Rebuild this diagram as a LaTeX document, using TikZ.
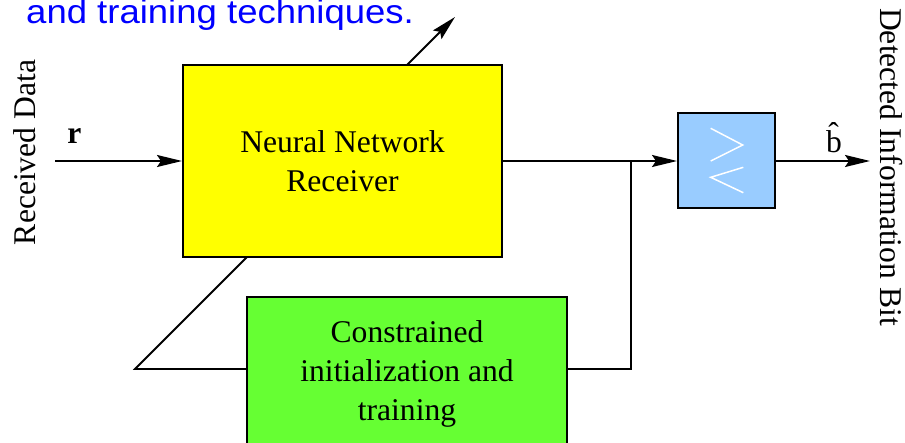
\documentclass[tikz,border=0pt]{standalone}
\usepackage{fontspec}
\setmainfont{Liberation Serif}
\newfontfamily\blsans{Liberation Sans}
\usetikzlibrary{arrows.meta,calc}
\definecolor{nnyellow}{RGB}{255,255,0}
\definecolor{cgreen}{RGB}{102,255,51}
\definecolor{cmpblue}{RGB}{153,204,255}
\definecolor{noteblue}{RGB}{0,0,255}
\begin{document}
\begin{tikzpicture}[x=1pt,y=1pt,
  lbl/.style={font=\fontsize{31.6}{39}\selectfont, inner sep=0pt},
  blockbox/.style={draw=black, line width=2pt, rectangle, inner sep=0pt, align=center, font=\fontsize{31.6}{39}\selectfont},
  conn/.style={line width=1.8pt, draw=black},
  arr/.style={conn, -{Stealth[length=25pt,width=12pt,inset=4pt]}}
]
\clip (0,-442) rectangle (905,0);
\fill[white] (0,-442) rectangle (905,0);

% blocks
\node[blockbox, fill=nnyellow, minimum width=319pt, minimum height=192pt] (nn) at (342.5,-161) {Neural Network\\Receiver};
\node[blockbox, fill=cgreen, minimum width=320pt, minimum height=153pt] (tr) at (407,-373.5) {Constrained\\initialization and\\training};
\node[blockbox, fill=cmpblue, minimum width=97pt, minimum height=95pt] (cmp) at (726.5,-160.5) {\phantom{x}};

% comparator symbol
\draw[white, line width=1.5pt] ($(cmp.center)+(-15.8,32.2)$) -- ($(cmp.center)+(16.2,15.5)$) -- ($(cmp.center)+(-15.8,-0.5)$);
\draw[white, line width=1.5pt] ($(cmp.center)+(16.8,-6.8)$) -- ($(cmp.center)+(-15.8,-16.8)$) -- ($(cmp.center)+(16.8,-32.2)$);

% coordinates
\coordinate (in) at (55,-161);
\coordinate (j) at (631,-161);
\coordinate (j2) at (631,-369);
\coordinate (fb) at (135,-369);
\coordinate (fbtop) at (247,-257);
\coordinate (adst) at (407,-65);
\coordinate (adtip) at (455,-17);
\coordinate (out) at (870,-161);

% connectors
\draw[arr] (in) -- (nn.west |- in);
\draw[arr] (nn.east |- j) -- (cmp.west |- j);
\draw[conn] (j) -- (j2) -- (j2 -| tr.east);
\draw[conn, line join=miter] (tr.west |- fb) -- (fb) -- (fbtop);
\draw[arr] (adst) -- (adtip);
\draw[arr] (cmp.east |- out) -- (out);

% labels
\node[lbl, anchor=base] (rlab) at (74.5,-143) {\textbf{r}};
\node[lbl, anchor=base] (blab) at (834,-152) {\^{b}};
\node[lbl, anchor=base, rotate=90] (rxlab) at (35,-152.5) {Received Data};
\node[lbl, anchor=base, rotate=-90] (detlab) at (880,-167) {Detected Information Bit};
\node[anchor=base west, inner sep=0pt, text=noteblue, font=\blsans\fontsize{33.5}{40}\selectfont] (note) at (26,-23.5) {\scalebox{1.09}[1]{and training techniques.}};
\end{tikzpicture}
\end{document}
